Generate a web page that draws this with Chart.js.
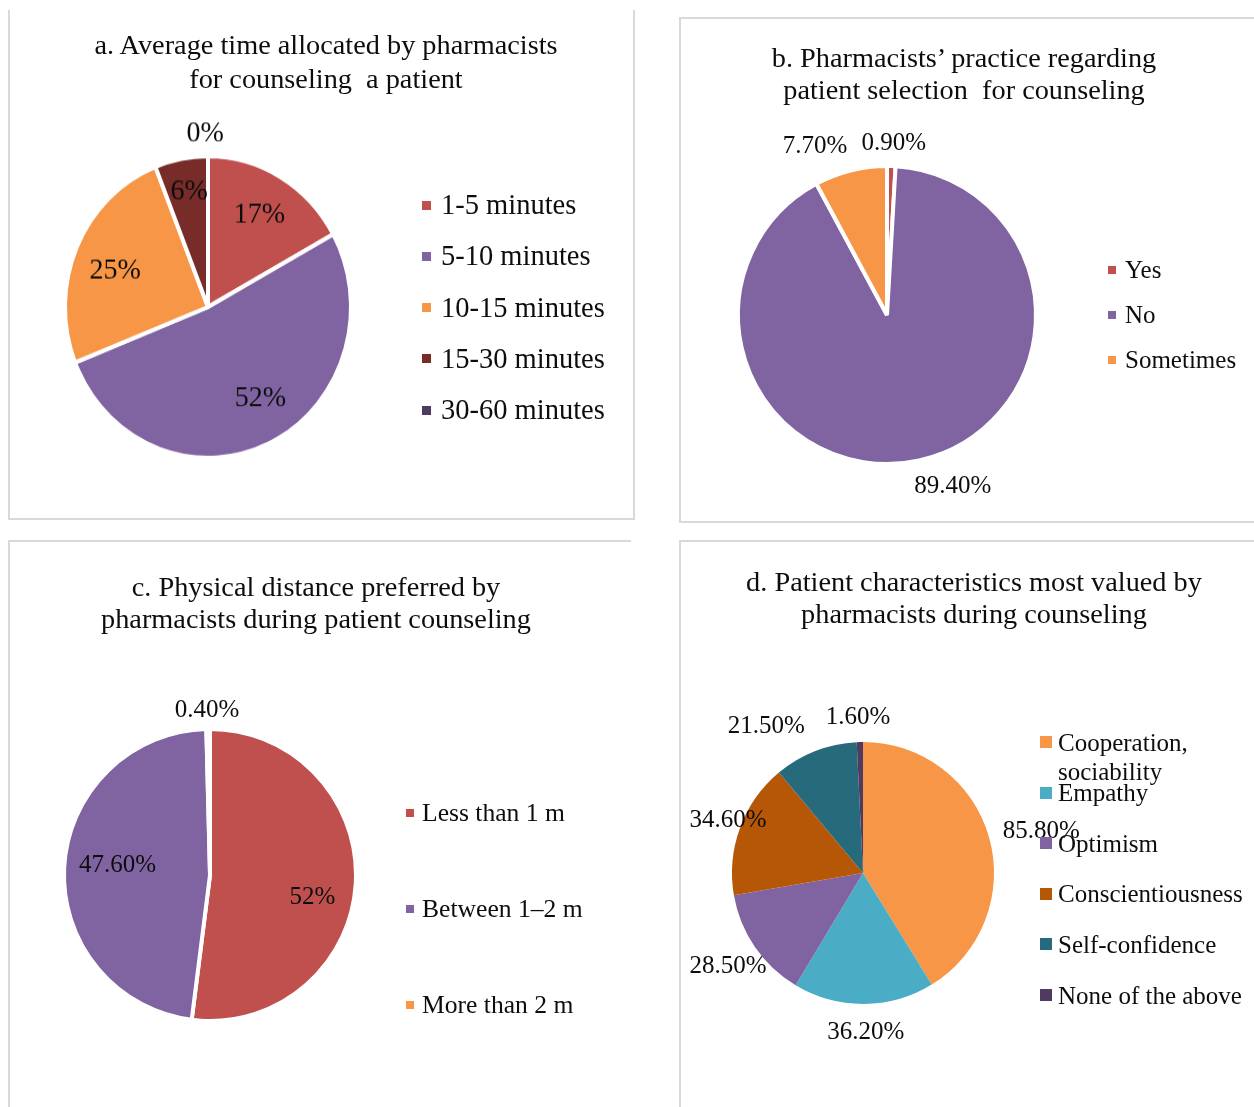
<!DOCTYPE html>
<html>
<head>
<meta charset="utf-8">
<script src="https://cdn.jsdelivr.net/npm/chart.js@4.4.1/dist/chart.umd.min.js"></script>
<style>
    body { margin: 0; background: #fff; }
    #page { position: relative; width: 1254px; height: 1107px; overflow: hidden; background: #fff;
            font-family: "Liberation Serif", "Times New Roman", serif; color: #0d0d0d; }
    .frame { position: absolute; border: 0 solid #d9d9d9; box-sizing: border-box; }
    .chart-box { position: absolute; }
    .title { position: absolute; width: 620px; text-align: center; font-size: 28.3px; white-space: pre; }
    .legend-item { position: absolute; white-space: nowrap; }
    .legend-item .swatch { position: absolute; left: 0; }
    .legend-item .text { position: absolute; white-space: normal; }
</style>
</head>
<body>
<div id="page">
    <div class="frame" style="left:8px;top:10px;width:627px;height:510px;border-left-width:2px;border-right-width:2px;border-bottom-width:2px;"></div>
    <div class="frame" style="left:679px;top:17px;width:600px;height:506px;border-width:2px;"></div>
    <div class="frame" style="left:8px;top:540px;width:623px;height:600px;border-left-width:2px;border-top-width:2px;"></div>
    <div class="frame" style="left:679px;top:540px;width:600px;height:600px;border-left-width:2px;border-top-width:2px;"></div>

    <!-- a 패널은 원본처럼 세로로 약간 늘어나 있음 -->
    <div class="chart-box" style="left:8px;top:10px;width:626px;height:508px;transform:scaleY(1.055);transform-origin:50% 297px;"><canvas id="chart-a"></canvas></div>
    <div class="chart-box" style="left:680px;top:18px;width:574px;height:503px;"><canvas id="chart-b"></canvas></div>
    <div class="chart-box" style="left:8px;top:541px;width:622px;height:566px;"><canvas id="chart-c"></canvas></div>
    <div class="chart-box" style="left:680px;top:541px;width:574px;height:566px;"><canvas id="chart-d"></canvas></div>

    <div class="title" style="left:16px;top:28px;line-height:34px;">a. Average time allocated by pharmacists
for counseling  a patient</div>
    <div class="title" style="left:654px;top:42px;line-height:32px;">b. Pharmacists’ practice regarding
patient selection  for counseling</div>
    <div class="title" style="left:6px;top:571px;line-height:32px;">c. Physical distance preferred by
pharmacists during patient counseling</div>
    <div class="title" style="left:664px;top:566px;line-height:32px;">d. Patient characteristics most valued by
pharmacists during counseling</div>

    <div id="legend-a"></div>
    <div id="legend-b"></div>
    <div id="legend-c"></div>
    <div id="legend-d"></div>
</div>

<script>
// ===== 데이터 =====
const timeCategories = ['1-5 minutes', '5-10 minutes', '10-15 minutes', '15-30 minutes', '30-60 minutes'];
const timeValues = [17, 52, 25, 6, 0];
const timeLabels = ['17%', '52%', '25%', '6%', '0%'];

const selectionCategories = ['Yes', 'No', 'Sometimes'];
const selectionValues = [0.9, 89.4, 7.7];
const selectionLabels = ['0.90%', '89.40%', '7.70%'];

const distanceCategories = ['Less than 1 m', 'Between 1–2 m', 'More than 2 m'];
const distanceValues = [52, 47.6, 0.4];
const distanceLabels = ['52%', '47.60%', '0.40%'];

const traitCategories = ['Cooperation, sociability', 'Empathy', 'Optimism', 'Conscientiousness', 'Self-confidence', 'None of the above'];
const traitValues = [85.8, 36.2, 28.5, 34.6, 21.5, 1.6];
const traitLabels = ['85.80%', '36.20%', '28.50%', '34.60%', '21.50%', '1.60%'];

// ===== 색상 =====
const timeColors = ['#C0504D', '#8064A2', '#F79646', '#772C2A', '#4D3B62'];
const threeColors = ['#C0504D', '#8064A2', '#F79646'];
const traitColors = ['#F79646', '#4BACC6', '#8064A2', '#B65708', '#276A7C', '#4F3B62'];

const SERIF = '"Liberation Serif", "Times New Roman", serif';

/**
 * 조각별 퍼센트 라벨을 그리는 플러그인 생성
 * @param {Array} texts 라벨 텍스트
 * @param {Array} places 각 조각 중심각 기준 거리(px)와 회전(deg)
 * @param {number} size 글꼴 크기
 */
function makeLabelPlugin(texts, places, size) {
    return {
        id: 'pieLabels',
        afterDatasetsDraw(chart) {
            const ctx = chart.ctx;
            const arcs = chart.getDatasetMeta(0).data;
            ctx.save();
            ctx.font = `${size}px ${SERIF}`;
            ctx.fillStyle = '#0d0d0d';
            ctx.textAlign = 'center';
            ctx.textBaseline = 'middle';
            arcs.forEach((arc, i) => {
                const p = places[i];
                const mid = (arc.startAngle + arc.endAngle) / 2 + p.shift * Math.PI / 180;
                ctx.fillText(texts[i], arc.x + Math.cos(mid) * p.dist, arc.y + Math.sin(mid) * p.dist);
            });
            ctx.restore();
        }
    };
}

/**
 * 파이 차트 생성 (중심과 반지름은 캔버스 기준 위치로 맞춤)
 */
function makePie(id, box, spec) {
    const half = spec.r + 3;
    const padding = {
        left: spec.cx - box.x - half,
        top: spec.cy - box.y - half,
        right: box.x + box.w - spec.cx - half,
        bottom: box.y + box.h - spec.cy - half
    };
    return new Chart(document.getElementById(id), {
        type: 'pie',
        data: {
            labels: spec.categories,
            datasets: [{
                data: spec.values,
                backgroundColor: spec.colors,
                borderColor: '#ffffff',
                borderWidth: spec.border,
                hoverOffset: 0,
                radius: spec.r
            }]
        },
        options: {
            responsive: true,
            maintainAspectRatio: false,
            animation: false,
            events: [],
            layout: { padding },
            plugins: {
                legend: { display: false },
                tooltip: { enabled: false }
            }
        },
        plugins: [makeLabelPlugin(spec.texts, spec.places, spec.fontSize)]
    });
}

/**
 * HTML 범례 생성
 */
function makeLegend(id, categories, colors, cfg) {
    const holder = document.getElementById(id);
    categories.forEach((name, i) => {
        const cy = cfg.y0 + i * cfg.step;
        const item = document.createElement('div');
        item.className = 'legend-item';
        item.style.left = cfg.x + 'px';
        item.style.top = (cy - cfg.lineHeight / 2) + 'px';
        item.style.fontSize = cfg.fontSize + 'px';
        item.style.lineHeight = cfg.lineHeight + 'px';
        item.innerHTML = `
            <span class="swatch" style="top:${(cfg.lineHeight - cfg.box) / 2}px;width:${cfg.box}px;height:${cfg.box}px;background:${colors[i]};"></span>
            <span class="text" style="left:${cfg.gap}px;width:${cfg.width}px;">${name}</span>
        `;
        holder.appendChild(item);
    });
}

// a. 상담 시간
makePie('chart-a', { x: 8, y: 10, w: 626, h: 508 }, {
    cx: 208, cy: 307, r: 143, border: 4, fontSize: 28,
    categories: timeCategories, values: timeValues, colors: timeColors, texts: timeLabels,
    places: [
        { dist: 101, shift: 0 }, { dist: 101, shift: -6 }, { dist: 99, shift: -3 },
        { dist: 111, shift: 1 }, { dist: 164, shift: -1 }
    ]
});
makeLegend('legend-a', timeCategories, timeColors,
    { x: 422, y0: 205, step: 51.3, fontSize: 28.5, lineHeight: 32, box: 9, gap: 19, width: 220 });

// b. 환자 선택
makePie('chart-b', { x: 680, y: 18, w: 574, h: 503 }, {
    cx: 887, cy: 315, r: 149, border: 4, fontSize: 25,
    categories: selectionCategories, values: selectionValues, colors: threeColors, texts: selectionLabels,
    places: [{ dist: 172, shift: 0.6 }, { dist: 184, shift: -8.5 }, { dist: 183, shift: -9 }]
});
makeLegend('legend-b', selectionCategories, threeColors,
    { x: 1108, y0: 270, step: 45, fontSize: 25, lineHeight: 30, box: 8, gap: 17, width: 160 });

// c. 물리적 거리
makePie('chart-c', { x: 8, y: 541, w: 622, h: 566 }, {
    cx: 210, cy: 875, r: 146, border: 4, fontSize: 25,
    categories: distanceCategories, values: distanceValues, colors: threeColors, texts: distanceLabels,
    places: [{ dist: 105, shift: 9 }, { dist: 93, shift: 3.3 }, { dist: 165, shift: -0.3 }]
});
makeLegend('legend-c', distanceCategories, threeColors,
    { x: 406, y0: 813, step: 96, fontSize: 25.6, lineHeight: 30, box: 8, gap: 16, width: 220 });

// d. 환자 특성
makePie('chart-d', { x: 680, y: 541, w: 574, h: 566 }, {
    cx: 863, cy: 873, r: 131, border: 0, fontSize: 25,
    categories: traitCategories, values: traitValues, colors: traitColors, texts: traitLabels,
    places: [
        { dist: 183, shift: 2.8 }, { dist: 159, shift: -0.7 }, { dist: 164, shift: -0.2 },
        { dist: 145, shift: 1.2 }, { dist: 176, shift: -12 }, { dist: 156, shift: -0.4 }
    ]
});
makeLegend('legend-d', traitCategories, traitColors,
    { x: 1040, y0: 742, step: 50.6, fontSize: 25, lineHeight: 29, box: 12, gap: 18, width: 190 });
</script>
</body>
</html>
